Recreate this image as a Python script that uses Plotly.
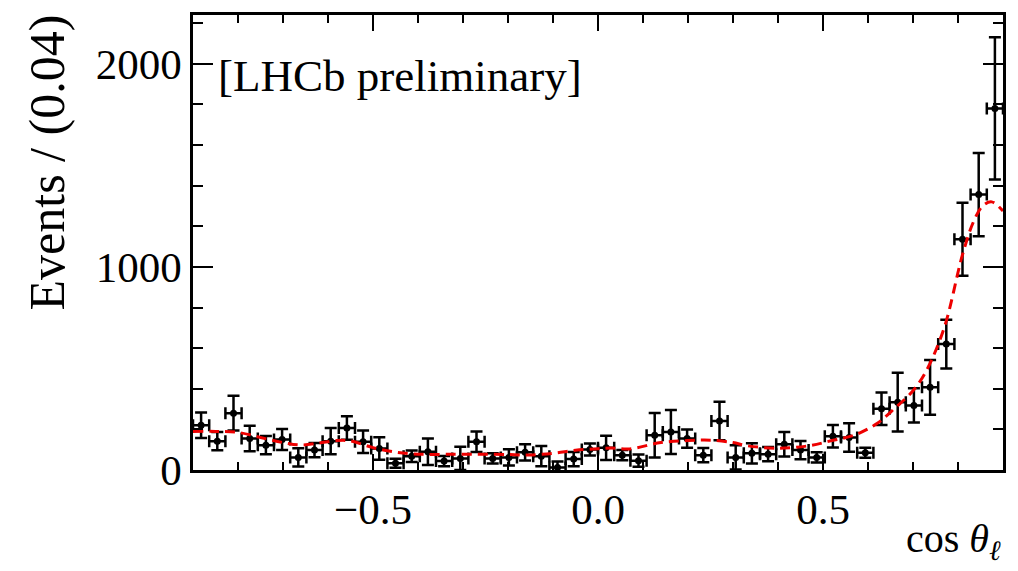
import numpy as np
import plotly.graph_objects as go

# Data points (bin centres, bin width 0.036)
bin_centers = [-0.882, -0.846, -0.810, -0.774, -0.738, -0.702, -0.666, -0.630, -0.594, -0.558,
               -0.522, -0.486, -0.450, -0.414, -0.378, -0.342, -0.306, -0.270, -0.234, -0.198,
               -0.162, -0.126, -0.090, -0.054, -0.018, 0.018, 0.054, 0.090, 0.126, 0.162,
               0.198, 0.234, 0.270, 0.306, 0.342, 0.378, 0.414, 0.450, 0.486, 0.522,
               0.558, 0.594, 0.630, 0.666, 0.702, 0.738, 0.774, 0.810, 0.846, 0.882]
events = [220, 142, 280, 155, 122, 150, 62, 98, 142, 207,
          139, 106, 33, 68, 90, 44, 57, 139, 57, 62,
          87, 68, 12, 54, 101, 109, 73, 46, 171, 187,
          155, 73, 241, 62, 82, 78, 127, 98, 62, 166,
          160, 85, 302, 334, 318, 407, 620, 1136, 1356, 1780]
errors = [63, 45, 85, 63, 45, 52, 45, 35, 65, 58,
          55, 55, 22, 28, 65, 25, 57, 50, 25, 40,
          40, 50, 30, 35, 30, 60, 25, 30, 110, 108,
          45, 35, 95, 60, 50, 35, 60, 45, 25, 55,
          70, 25, 80, 145, 84, 135, 120, 180, 205, 350]
half_bin = 0.018

# Fit curve
fit_x = [-0.90, -0.85, -0.80, -0.75, -0.70, -0.66, -0.62, -0.58, -0.55, -0.50,
         -0.45, -0.40, -0.34, -0.27, -0.20, -0.155, -0.10, -0.05, 0.0, 0.03,
         0.07, 0.14, 0.20, 0.25, 0.30, 0.33, 0.40, 0.47, 0.52, 0.57,
         0.62, 0.66, 0.70, 0.73, 0.77, 0.81, 0.835, 0.855, 0.875, 0.90]
fit_y = [190, 190, 185, 160, 135, 123, 133, 145, 143, 110,
         88, 78, 77, 78, 76, 74, 82, 97, 105, 108,
         104, 135, 145, 147, 135, 120, 107, 120, 145, 172,
         229, 305, 390, 490, 705, 1060, 1225, 1300, 1320, 1275]

FONT = "Liberation Serif"

fig = go.Figure()
fig.add_trace(go.Scatter(
    x=bin_centers, y=events, mode="markers",
    marker=dict(color="black", size=7),
    error_x=dict(type="constant", value=half_bin, color="black", thickness=2.5, width=6),
    error_y=dict(type="data", array=errors, color="black", thickness=2.5, width=6),
    showlegend=False,
))
fig.add_trace(go.Scatter(
    x=fit_x, y=fit_y, mode="lines",
    line=dict(color="#ee0000", width=3, dash="10px,6px", shape="spline", smoothing=1.0),
    showlegend=False,
))

fig.update_layout(
    width=1018, height=571,
    margin=dict(l=193, r=13, t=12, b=101),
    paper_bgcolor="white", plot_bgcolor="white",
    font=dict(family=FONT, size=42, color="black"),
    xaxis=dict(
        range=[-0.9, 0.9], showgrid=False, zeroline=False,
        showline=True, linecolor="black", linewidth=2.5, mirror="ticks",
        ticks="inside", ticklen=16, tickwidth=2, tickcolor="black",
        tick0=0, dtick=0.5, tickformat=".1f",
        minor=dict(ticks="inside", ticklen=8, tickwidth=2, tickcolor="black", dtick=0.1, tick0=0),
        tickfont=dict(family=FONT, size=43),
    ),
    yaxis=dict(
        range=[0, 2240], showgrid=False, zeroline=False,
        showline=True, linecolor="black", linewidth=2.5, mirror="ticks",
        ticks="inside", ticklen=20, tickwidth=2, tickcolor="black",
        tick0=0, dtick=1000, tickformat="d",
        minor=dict(ticks="inside", ticklen=10, tickwidth=2, tickcolor="black", dtick=200, tick0=0),
        tickfont=dict(family=FONT, size=43),
    ),
    annotations=[
        dict(text="Events / (0.04)", xref="paper", yref="paper", x=-0.18, y=1.006,
             xanchor="center", yanchor="top", textangle=-90, showarrow=False,
             font=dict(family=FONT, size=50)),
        dict(text="cos <i>θ</i><sub><i>ℓ</i></sub>", xref="paper", yref="paper", x=1.0, y=-0.155,
             xanchor="right", yanchor="middle", showarrow=False,
             font=dict(family=FONT, size=40)),
        dict(text="[LHCb preliminary]", xref="paper", yref="paper", x=0.028, y=0.867,
             xanchor="left", yanchor="middle", showarrow=False,
             font=dict(family=FONT, size=45)),
    ],
)

fig.write_html("out.html")
